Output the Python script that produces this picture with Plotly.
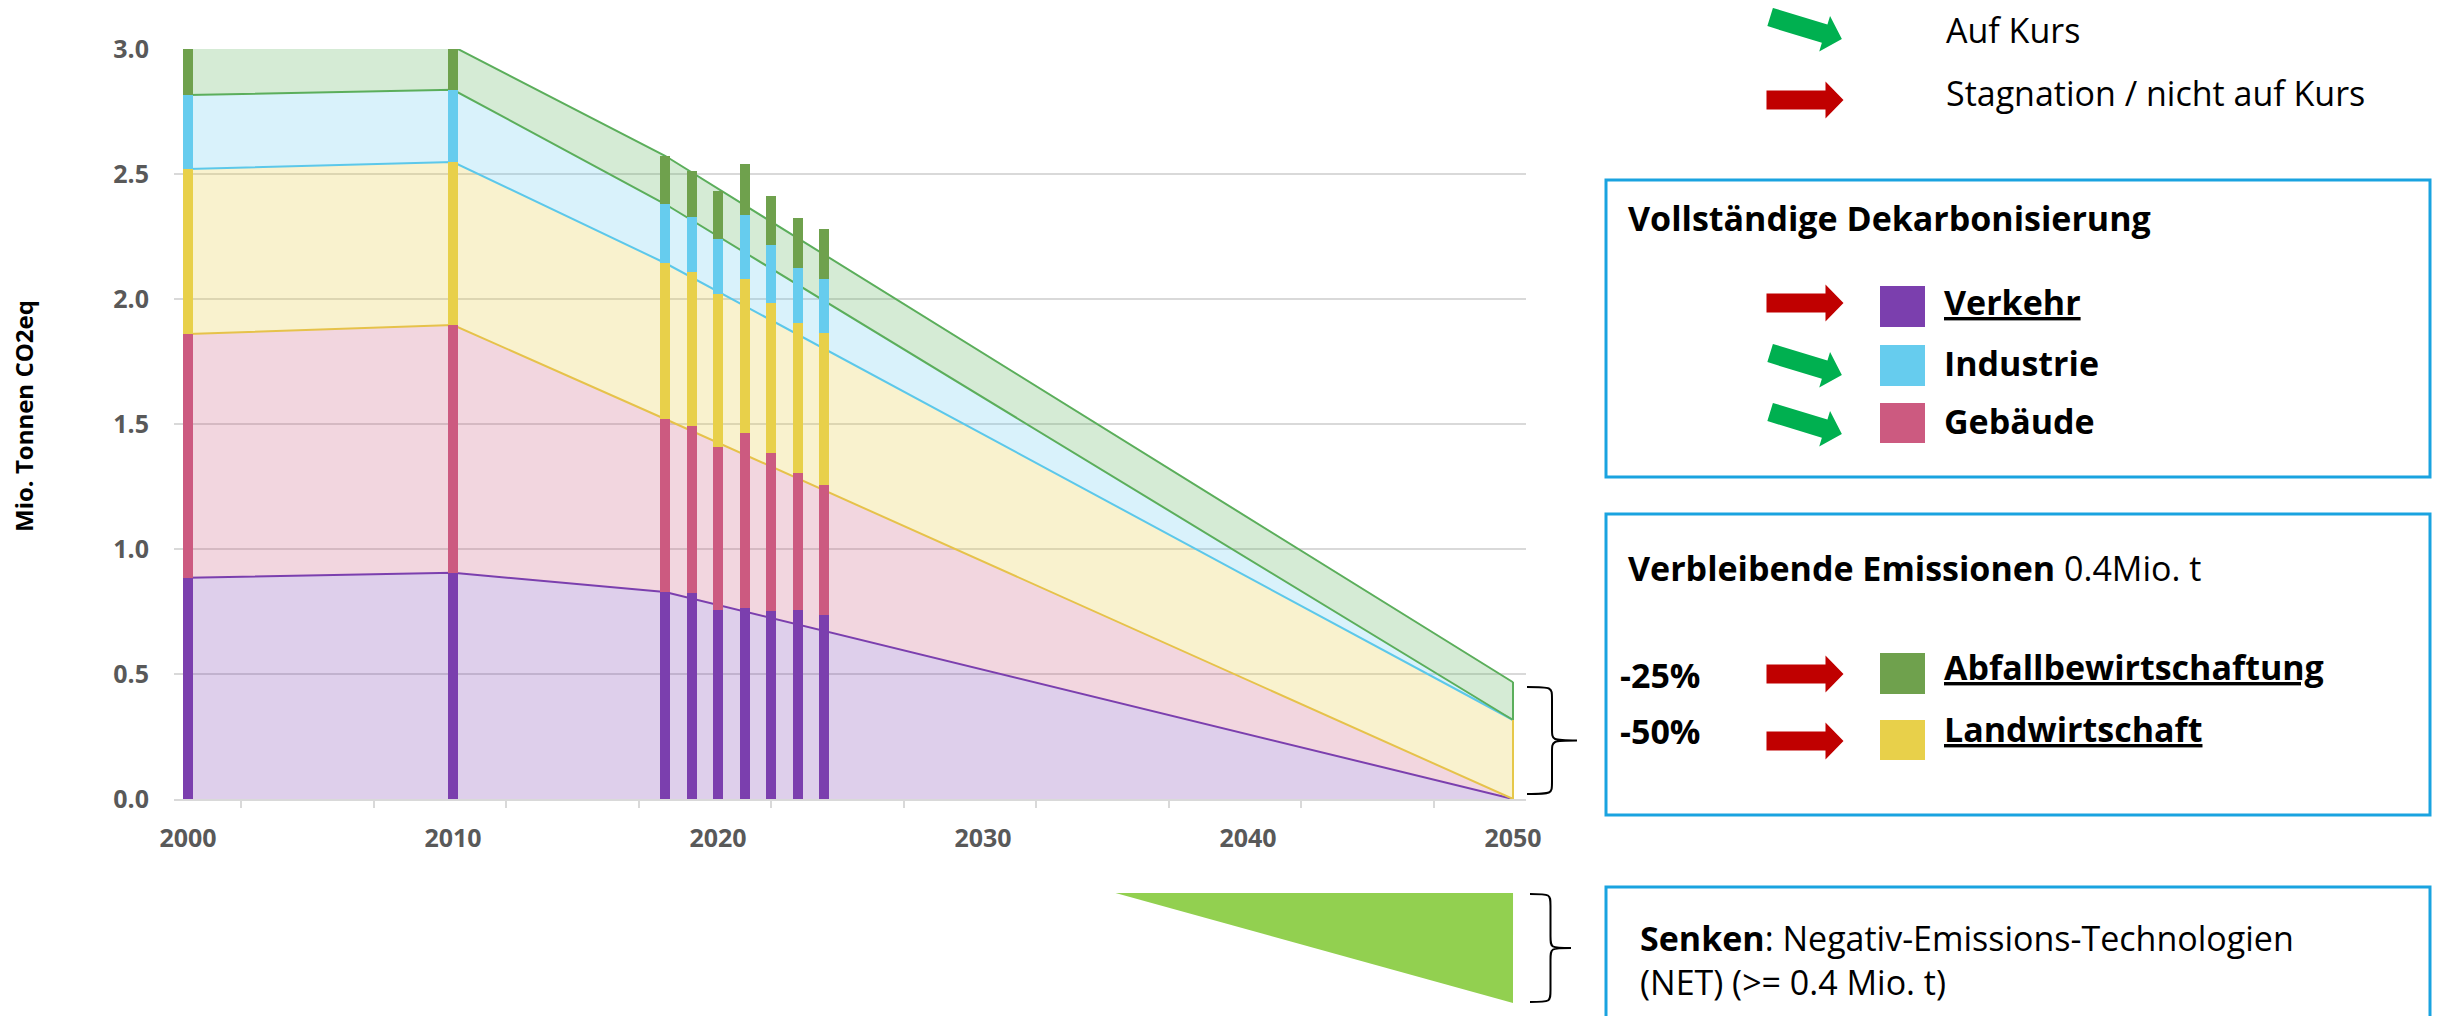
import math
import plotly.graph_objects as go

# ---------------- data ----------------
bar_years = [2000, 2010, 2018, 2019, 2020, 2021, 2022, 2023, 2024]
verkehr = [0.885, 0.905, 0.828, 0.825, 0.755, 0.765, 0.753, 0.755, 0.737]
gebaeude = [0.975, 0.991, 0.692, 0.668, 0.652, 0.698, 0.630, 0.548, 0.519]
landwirtschaft = [0.660, 0.652, 0.624, 0.616, 0.613, 0.616, 0.600, 0.601, 0.608]
industrie = [0.296, 0.289, 0.236, 0.219, 0.220, 0.257, 0.232, 0.219, 0.215]
abfall = [0.200, 0.173, 0.193, 0.185, 0.193, 0.204, 0.197, 0.201, 0.202]

path_years = [2000, 2010, 2018, 2050]
path_verkehr = [0.885, 0.905, 0.828, 0.0]
path_gebaeude = [0.975, 0.991, 0.692, 0.0]
path_landwirtschaft = [0.660, 0.652, 0.624, 0.316]
path_industrie = [0.296, 0.289, 0.236, 0.0]
path_abfall = [0.200, 0.173, 0.193, 0.151]

target_year = [2050]
target_landwirtschaft = [0.316]
target_abfall = [0.151]

net_years = [2035, 2050]
net_values = [0.0, -0.44]

x_ticks = [2000, 2010, 2020, 2030, 2040, 2050]

# ---------------- styles ----------------
C_V = "#7B3FAE"
C_G = "#CC5A80"
C_L = "#E8D04A"
C_I = "#66CCEE"
C_A = "#6FA14D"
C_NET = "#92D050"
C_BOX = "#1AA3E0"
C_RED = "#C00000"
C_GREEN = "#00B050"
FONT = "Open Sans"

# page offset of the figure (default body margin of the html page)
ORG = 8
W, H = 2440 - 2 * ORG, 1024 - 2 * ORG
# plot area in page pixels
PL, PR, PT, PB = 174, 1526, 49, 1003
ML, MR, MT, MB = PL - ORG, ORG + W - PR, PT - ORG, ORG + H - PB
PW = PR - PL
PH = PB - PT


def px(x):
    return (x - PL) / PW


def py(y):
    return (PB - y) / PH


fig = go.Figure()

# stacked target path areas
area_specs = [
    ("Verkehr", path_verkehr, "rgba(123,63,174,0.25)", C_V),
    ("Gebäude", path_gebaeude, "rgba(204,90,128,0.25)", "#E6C24A"),
    ("Landwirtschaft", path_landwirtschaft, "rgba(232,208,74,0.27)", "#5CC8EA"),
    ("Industrie", path_industrie, "rgba(102,204,238,0.25)", "#5BAE5B"),
    ("Abfallbewirtschaftung", path_abfall, "rgba(100,180,100,0.27)", "#5BAE5B"),
]
for name, vals, fc, lc in area_specs:
    fig.add_trace(go.Scatter(
        x=path_years, y=vals, name=name, stackgroup="path", mode="lines",
        line=dict(color=lc, width=2), fillcolor=fc, showlegend=False,
        hoverinfo="skip", xaxis="x", yaxis="y"))

# stacked bars (on an overlay axis so they are drawn above the areas)
bar_specs = [
    ("Verkehr", verkehr, C_V),
    ("Gebäude", gebaeude, C_G),
    ("Landwirtschaft", landwirtschaft, C_L),
    ("Industrie", industrie, C_I),
    ("Abfallbewirtschaftung", abfall, C_A),
]
for name, vals, col in bar_specs:
    fig.add_trace(go.Bar(
        x=bar_years, y=vals, name=name, marker=dict(color=col, line=dict(width=0)),
        width=0.38, showlegend=False, hoverinfo="skip", xaxis="x", yaxis="y3"))

# 2050 target edges
fig.add_trace(go.Bar(x=target_year, y=target_landwirtschaft, width=0.08,
                     marker=dict(color="#E6C84A", line=dict(width=0)),
                     showlegend=False, hoverinfo="skip", xaxis="x", yaxis="y3"))
fig.add_trace(go.Bar(x=target_year, y=target_abfall, width=0.08,
                     marker=dict(color="#5BAE5B", line=dict(width=0)),
                     showlegend=False, hoverinfo="skip", xaxis="x", yaxis="y3"))

# negative emission technologies wedge
fig.add_trace(go.Scatter(x=net_years, y=[0, 0], mode="lines",
                         line=dict(width=0, color=C_NET), showlegend=False,
                         hoverinfo="skip", xaxis="x", yaxis="y2"))
fig.add_trace(go.Scatter(x=net_years, y=net_values, mode="lines", fill="tonexty",
                         fillcolor=C_NET, line=dict(width=0, color=C_NET),
                         showlegend=False, hoverinfo="skip", xaxis="x", yaxis="y2"))

# ---------------- shapes ----------------
shapes = []


def path_from(points, close=True):
    s = "M " + " L ".join(f"{px(x):.5f},{py(y):.5f}" for x, y in points)
    return s + (" Z" if close else "")


def arrow(cx, cy, color, ang=0.0, L=77, sh=9.5, hh=18.5, hl=18):
    pts = [(-L / 2, -sh), (L / 2 - hl, -sh), (L / 2 - hl, -hh), (L / 2, 0),
           (L / 2 - hl, hh), (L / 2 - hl, sh), (-L / 2, sh)]
    a = math.radians(ang)
    out = []
    for x, y in pts:
        xr = x * math.cos(a) - y * math.sin(a)
        yr = x * math.sin(a) + y * math.cos(a)
        out.append((cx + xr, cy + yr))
    shapes.append(dict(type="path", xref="paper", yref="paper",
                       path=path_from(out), fillcolor=color,
                       line=dict(width=0), layer="above"))


def rect(x0, y0, x1, y1, fill=None, line=None, lw=0):
    d = dict(type="rect", xref="paper", yref="paper",
             x0=px(x0), x1=px(x1), y0=py(y1), y1=py(y0), layer="above")
    if fill:
        d["fillcolor"] = fill
    d["line"] = dict(color=line or "rgba(0,0,0,0)", width=lw)
    shapes.append(d)


def brace(x0, x1, top, bottom):
    xm = (x0 + x1) / 2
    mid = (top + bottom) / 2
    r = 12

    def P(x, y):
        return f"{px(x):.5f},{py(y):.5f}"
    p = (f"M {P(x0, top)} C {P(xm, top)} {P(xm, top)} {P(xm, top + r)} "
         f"L {P(xm, mid - r)} C {P(xm, mid)} {P(xm, mid)} {P(x1, mid)} "
         f"C {P(xm, mid)} {P(xm, mid)} {P(xm, mid + r)} "
         f"L {P(xm, bottom - r)} C {P(xm, bottom)} {P(xm, bottom)} {P(x0, bottom)}")
    shapes.append(dict(type="path", xref="paper", yref="paper", path=p,
                       line=dict(color="black", width=2), layer="above"))


brace(1527, 1577, 687, 794)
brace(1530, 1571, 894, 1002)

# boxes
rect(1606, 180, 2430, 477, line=C_BOX, lw=3)
rect(1606, 514, 2430, 815, line=C_BOX, lw=3)
rect(1606, 887, 2430, 1040, line=C_BOX, lw=3)

# arrows
arrow(1806, 28, C_GREEN, ang=17, L=75)
arrow(1805, 100, C_RED)
arrow(1805, 303, C_RED)
arrow(1806, 364, C_GREEN, ang=17, L=75)
arrow(1806, 423, C_GREEN, ang=17, L=75)
arrow(1805, 674, C_RED)
arrow(1805, 741, C_RED)

# colour squares
rect(1880, 286, 1925, 327, fill=C_V)
rect(1880, 345, 1925, 386, fill=C_I)
rect(1880, 403, 1925, 443, fill=C_G)
rect(1880, 653, 1925, 694, fill=C_A)
rect(1880, 720, 1925, 760, fill=C_L)

# ---------------- annotations ----------------
annotations = []


def txt(x, y, text, size=34, color="black", anchor="left", angle=0):
    annotations.append(dict(xref="paper", yref="paper", x=px(x), y=py(y),
                            text=text, showarrow=False, xanchor=anchor,
                            yanchor="middle", textangle=angle,
                            font=dict(family=FONT, size=size, color=color)))


txt(1944, 30, "Auf Kurs")
txt(1944, 93, "Stagnation / nicht auf Kurs")
txt(1626, 218, "<b>Vollständige Dekarbonisierung</b>")
txt(1942, 302, "<b><u>Verkehr</u></b>")
txt(1942, 363, "<b>Industrie</b>")
txt(1942, 421, "<b>Gebäude</b>")
txt(1626, 568, "<b>Verbleibende Emissionen</b> 0.4Mio. t")
txt(1618, 675, "<b>-25%</b>")
txt(1618, 731, "<b>-50%</b>")
txt(1942, 667, "<b><u>Abfallbewirtschaftung</u></b>")
txt(1942, 729, "<b><u>Landwirtschaft</u></b>")
txt(1638, 938, "<b>Senken</b>: Negativ-Emissions-Technologien")
txt(1638, 982, "(NET) (>= 0.4 Mio. t)")
txt(23, 416, "<b>Mio. Tonnen CO2eq</b>", size=24, anchor="center", angle=-90)

tickfont = dict(family=FONT, size=25, color="#595959", weight="bold")

fig.update_layout(
    width=W, height=H,
    margin=dict(l=ML, r=MR, t=MT, b=MB, autoexpand=False),
    paper_bgcolor="white", plot_bgcolor="rgba(0,0,0,0)",
    barmode="stack", bargap=0, hovermode=False, showlegend=False,
    xaxis=dict(range=[1999.47, 2050.49], anchor="y", tickmode="array",
               tickvals=x_ticks, ticks="", showgrid=False, zeroline=False,
               showline=True, linecolor="#D9D9D9", linewidth=2,
               tickfont=tickfont, ticklabelstandoff=16, automargin=False,
               minor=dict(ticks="outside", tick0=2002, dtick=5, ticklen=7,
                          tickcolor="#D9D9D9", tickwidth=2, showgrid=False)),
    yaxis=dict(domain=[py(799), 1], range=[0, 3], dtick=0.5, tick0=0,
               tickformat=".1f", showgrid=True, gridcolor="#D9D9D9", gridwidth=2,
               zeroline=False, showline=False, ticks="", tickfont=tickfont,
               ticklabelstandoff=24, automargin=False),
    yaxis3=dict(overlaying="y", range=[0, 3], visible=False, showgrid=False),
    yaxis2=dict(domain=[0, py(893)], range=[-0.44, 0], visible=False,
                showgrid=False, anchor="x"),
    shapes=shapes, annotations=annotations,
)

fig.write_html("out.html")
